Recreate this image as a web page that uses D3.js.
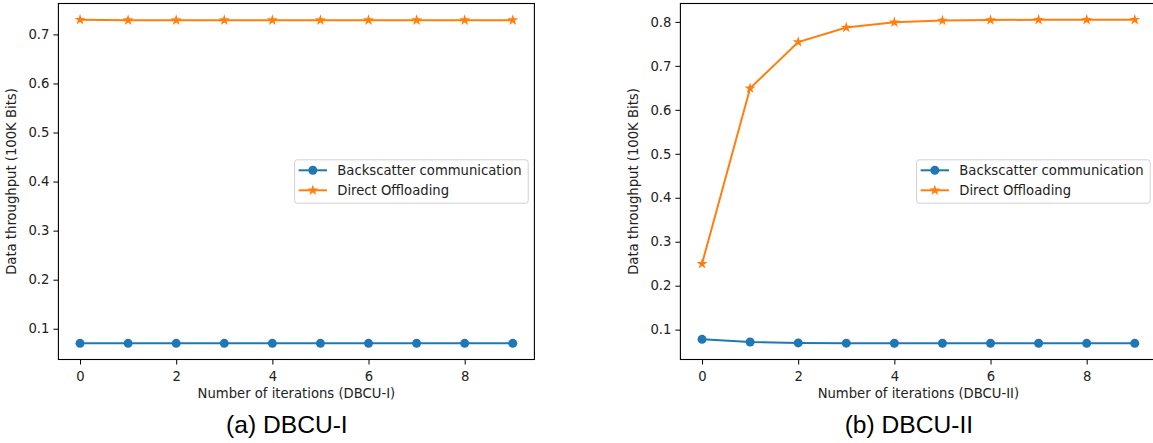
<!DOCTYPE html>
<html>
<head>
<meta charset="utf-8">
<script src="https://cdn.jsdelivr.net/npm/d3@7"></script>
<style>
  body { margin: 0; background: #fff; }
  svg { display: block; }
</style>
</head>
<body>
<div id="chart"></div>
<script>
// data
const iterations = [0, 1, 2, 3, 4, 5, 6, 7, 8, 9];
const xTicks = [0, 2, 4, 6, 8];

const backscatterI = [0.0703, 0.0703, 0.0703, 0.0703, 0.0703, 0.0703, 0.0703, 0.0703, 0.0703, 0.0703];
const directI = [0.730, 0.729, 0.729, 0.729, 0.729, 0.729, 0.729, 0.729, 0.729, 0.729];
const yTicksI = [0.1, 0.2, 0.3, 0.4, 0.5, 0.6, 0.7];

const backscatterII = [0.078, 0.072, 0.0698, 0.0693, 0.069, 0.069, 0.069, 0.069, 0.0689, 0.0689];
const directII = [0.25, 0.649, 0.754, 0.787, 0.799, 0.803, 0.804, 0.805, 0.805, 0.805];
const yTicksII = [0.1, 0.2, 0.3, 0.4, 0.5, 0.6, 0.7, 0.8];

const seriesNames = ['Backscatter communication', 'Direct Offloading'];
const colors = ['#1f77b4', '#ff7f0e'];

const W = 1153, H = 443;
const fontMain = 'DejaVu Sans, sans-serif';

const svg = d3.select('#chart').append('svg')
    .attr('width', W)
    .attr('height', H);

function drawPanel(opts) {
    const left = opts.left, top = 3.5, width = 476, height = 356;
    const g = svg.append('g').attr('transform', `translate(${left},${top})`);

    const x = d3.scaleLinear().domain([-0.45, 9.45]).range([0, width]);
    const all = opts.series.flat();
    const [lo, hi] = d3.extent(all);
    const pad = (hi - lo) * 0.05;
    const y = d3.scaleLinear().domain([lo - pad, hi + pad]).range([height, 0]);

    // axes
    const xAxis = g.append('g')
        .attr('transform', `translate(0,${height})`)
        .call(d3.axisBottom(x).tickValues(xTicks).tickFormat(d3.format('d')).tickSize(5).tickPadding(4));
    const yAxis = g.append('g')
        .call(d3.axisLeft(y).tickValues(opts.yTicks).tickFormat(d3.format('.1f')).tickSize(5).tickPadding(4));
    [xAxis, yAxis].forEach(a => {
        a.select('.domain').remove();
        a.selectAll('line').attr('stroke', '#000').attr('stroke-width', 1);
        a.selectAll('text')
            .attr('fill', '#222')
            .style('font-family', fontMain)
            .style('font-size', '13.2px');
    });
    xAxis.selectAll('text').attr('dy', '0.95em');

    // lines + markers
    const line = d3.line().x((d, i) => x(iterations[i])).y(d => y(d));
    opts.series.forEach((vals, k) => {
        g.append('path')
            .datum(vals)
            .attr('fill', 'none')
            .attr('stroke', colors[k])
            .attr('stroke-width', 2)
            .attr('d', line);
        if (k === 0) {
            g.selectAll('.dot' + k).data(vals).join('circle')
                .attr('cx', (d, i) => x(iterations[i]))
                .attr('cy', d => y(d))
                .attr('r', 4.5)
                .attr('fill', colors[k]);
        } else {
            g.selectAll('.star' + k).data(vals).join('path')
                .attr('transform', (d, i) => `translate(${x(iterations[i])},${y(d)})`)
                .attr('d', d3.symbol(d3.symbolStar, 38))
                .attr('fill', colors[k]);
        }
    });

    // frame
    g.append('rect')
        .attr('width', width).attr('height', height)
        .attr('fill', 'none')
        .attr('stroke', '#000')
        .attr('stroke-width', 1.1);

    // axis labels
    g.append('text')
        .attr('x', width / 2)
        .attr('y', height + 38)
        .attr('text-anchor', 'middle')
        .attr('fill', '#222')
        .style('font-family', fontMain)
        .style('font-size', '13.2px')
        .text(opts.xLabel);
    g.append('text')
        .attr('transform', `translate(-42.5,${height / 2}) rotate(-90)`)
        .attr('text-anchor', 'middle')
        .attr('fill', '#222')
        .style('font-family', fontMain)
        .style('font-size', '13.2px')
        .text('Data throughput (100K Bits)');

    // legend, center right
    const leg = g.append('g');
    const box = leg.append('rect')
        .attr('fill', '#fff').attr('fill-opacity', 0.8)
        .attr('stroke', '#d0d0d0').attr('stroke-width', 1)
        .attr('rx', 2.5);
    let maxLen = 0;
    seriesNames.forEach((name, k) => {
        const ry = k * 20 + 10.5;
        leg.append('line')
            .attr('x1', 4).attr('x2', 32.4)
            .attr('y1', ry).attr('y2', ry)
            .attr('stroke', colors[k]).attr('stroke-width', 2);
        if (k === 0) {
            leg.append('circle').attr('cx', 18.2).attr('cy', ry).attr('r', 4.5).attr('fill', colors[k]);
        } else {
            leg.append('path')
                .attr('transform', `translate(18.2,${ry})`)
                .attr('d', d3.symbol(d3.symbolStar, 38))
                .attr('fill', colors[k]);
        }
        const t = leg.append('text')
            .attr('x', 42.7).attr('y', ry)
            .attr('dy', '0.36em')
            .attr('fill', '#222')
            .style('font-family', fontMain)
            .style('font-size', '13.2px')
            .text(name);
        maxLen = Math.max(maxLen, t.node().getComputedTextLength());
    });
    const lw = 42.7 + maxLen + 6.6, lh = 43.4;
    box.attr('width', lw).attr('height', lh);
    leg.attr('transform', `translate(${width - 6.2 - lw},${height / 2 - lh / 2})`);

    // caption
    svg.append('text')
        .attr('x', left + width / 2 - 9.5)
        .attr('y', 432.5)
        .attr('text-anchor', 'middle')
        .attr('fill', '#000')
        .style('font-family', 'Liberation Sans, Arial, sans-serif')
        .style('font-size', '24.6px')
        .text(opts.caption);
}

drawPanel({
    left: 58.4,
    series: [backscatterI, directI],
    yTicks: yTicksI,
    xLabel: 'Number of iterations (DBCU-I)',
    caption: '(a) DBCU-I'
});
drawPanel({
    left: 680.4,
    series: [backscatterII, directII],
    yTicks: yTicksII,
    xLabel: 'Number of iterations (DBCU-II)',
    caption: '(b) DBCU-II'
});
</script>
</body>
</html>
